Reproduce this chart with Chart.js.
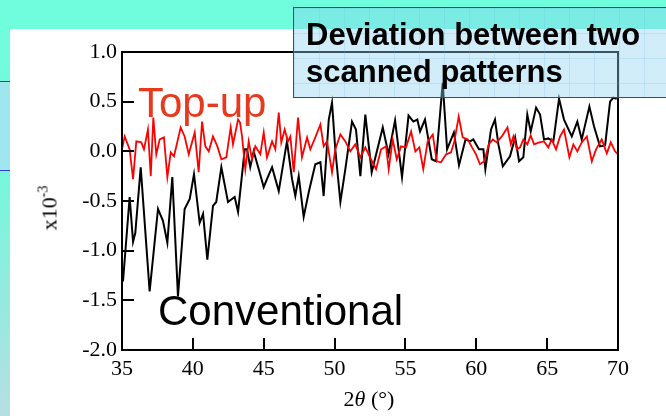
<!DOCTYPE html>
<html>
<head>
<meta charset="utf-8">
<script src="https://cdn.jsdelivr.net/npm/chart.js@4"></script>
<style>
  html, body { margin: 0; padding: 0; }
  body {
    width: 666px; height: 416px; overflow: hidden; position: relative;
    background: linear-gradient(to bottom, #6ffedd 0%, #74f8dc 40%, #98e9df 75%, #b6dfe3 100%);
    font-family: 'Liberation Sans', Arial, sans-serif;
  }
  #panel { position: absolute; left: 10px; top: 29px; width: 656px; height: 387px; background: #fff; }
  #sidebox {
    position: absolute; left: 0; top: 81px; width: 10px; height: 88px;
    background: #9fe6ee; border-top: 1.5px solid #2a3fe0; border-bottom: 1.5px solid #2a3fe0;
  }
  #chart { position: absolute; left: 0; top: 0; }
  #titlebox {
    position: absolute; left: 293px; top: 7px; width: 400px; height: 89px;
    border: 1.5px solid #2244dd;
    background-color: rgba(140, 210, 240, 0.4);
    background-image:
      linear-gradient(rgba(110, 180, 225, 0.22) 1px, transparent 1px),
      linear-gradient(90deg, rgba(110, 180, 225, 0.22) 1px, transparent 1px);
    background-size: 25px 25px;
  }
  .note { position: absolute; white-space: nowrap; }
  #title { left: 306px; top: 16px; font-size: 31px; line-height: 37px; font-weight: bold; color: #000; }
  #topup { left: 138px; top: 82px; font-size: 42px; line-height: 42px; color: #e8381e; }
  #conv { left: 158px; top: 290px; font-size: 42px; line-height: 42px; color: #000; }
  #xtitle { left: 369px; top: 388px; transform: translateX(-50%); font-family: 'Liberation Serif', serif; font-size: 22px; line-height: 22px; }
  #ytitle { left: 51px; top: 208px; transform: translate(-50%, -50%) rotate(-90deg); font-family: 'Liberation Serif', serif; font-size: 22px; line-height: 22px; }
  #ytitle span { font-size: 14px; position: relative; top: -9px; }
</style>
</head>
<body>
<div id="panel"></div>
<div id="sidebox"></div>
<canvas id="chart" width="666" height="416"></canvas>
<div id="titlebox"></div>
<div class="note" id="title">Deviation between two<br>scanned patterns</div>
<div class="note" id="topup">Top-up</div>
<div class="note" id="conv">Conventional</div>
<div class="note" id="xtitle">2<i>θ</i> (°)</div>
<div class="note" id="ytitle">x10<span>-3</span></div>
<script>
'use strict'

// conventional scan (black), 2theta in degrees and deviation x1e-3
const convAngle = [
  35.07, 35.54, 35.78, 35.94, 36.32, 36.95, 37.54, 37.89, 38.20, 38.55,
  38.95, 39.42, 39.78, 40.08, 40.48, 40.72, 41.02, 41.42, 41.65, 42.01,
  42.48, 42.95, 43.19, 43.66, 43.82, 44.05, 44.29, 44.65, 45.00, 45.23,
  45.59, 46.06, 46.64, 47.00, 47.23, 47.47, 47.82, 48.18, 48.64, 49.00,
  49.23, 49.59, 49.82, 50.05, 50.41, 50.76, 51.23, 51.51, 51.82, 52.17,
  52.62, 53.40, 53.81, 54.27, 54.76, 55.22, 55.56, 55.84, 56.03, 56.38,
  56.86, 57.16, 57.63, 57.94, 58.42, 58.78, 59.24, 59.56, 59.79, 60.19,
  60.50, 60.64, 61.04, 61.32, 61.56, 61.87, 62.38, 62.74, 63.02, 63.32,
  63.60, 63.84, 64.22, 64.50, 64.78, 65.08, 65.44, 65.84, 66.19, 66.74,
  67.13, 67.44, 67.98, 68.31, 68.73, 69.09, 69.44, 69.67, 69.91
];
const convValues = [
  -1.31, -0.46, -0.91, -0.82, -0.16, -1.41, -0.58, -0.70, -0.92, -0.26,
  -1.46, -0.58, -0.48, -0.23, -0.72, -0.63, -1.09, -0.55, -0.51, -0.16,
  -0.51, -0.46, -0.61, 0.02, 0.02, -0.16, 0.00, -0.18, -0.36, -0.28,
  -0.16, -0.40, 0.10, -0.28, -0.45, -0.25, -0.66, -0.41, -0.13, -0.11,
  -0.45, 0.32, 0.49, 0.02, -0.51, -0.18, 0.30, 0.22, -0.25, 0.37,
  -0.21, 0.24, -0.03, 0.31, -0.26, 0.36, 0.30, 0.32, 0.20, 0.32,
  -0.08, -0.10, 0.69, 0.02, 0.19, -0.14, 0.12, 0.10, 0.12, 0.02,
  0.02, -0.18, 0.22, 0.32, 0.07, -0.15, -0.05, 0.14, -0.10, -0.06,
  0.37, 0.20, 0.44, 0.37, 0.12, 0.13, 0.10, 0.53, 0.32, 0.15,
  0.30, 0.12, 0.45, 0.25, 0.05, 0.06, 0.50, 0.54, 0.53
];

// top-up scan (red)
const topupAngle = [
  35.00, 35.19, 35.54, 35.78, 36.01, 36.36, 36.55, 36.83, 37.03, 37.21,
  37.42, 37.66, 37.96, 38.20, 38.44, 38.67, 39.14, 39.42, 39.71, 40.13,
  40.41, 40.65, 40.88, 41.12, 41.42, 41.73, 42.01, 42.36, 42.67, 42.83,
  43.19, 43.33, 43.47, 43.70, 43.94, 44.17, 44.41, 44.76, 45.00, 45.23,
  45.59, 45.82, 46.06, 46.24, 46.48, 46.71, 46.88, 47.12, 47.42, 47.70,
  48.06, 48.29, 48.64, 49.00, 49.23, 49.47, 49.82, 50.05, 50.41, 50.76,
  51.11, 51.46, 51.82, 52.17, 52.57, 52.93, 53.28, 53.63, 53.82, 54.10,
  54.39, 54.69, 55.04, 55.40, 55.70, 55.98, 56.26, 56.57, 56.93, 57.21,
  57.51, 57.87, 58.22, 58.45, 58.76, 59.04, 59.40, 59.70, 59.98, 60.26,
  60.57, 60.88, 61.16, 61.44, 61.80, 62.20, 62.44, 62.62, 62.86, 63.09,
  63.32, 63.60, 63.84, 64.08, 64.45, 64.78, 65.08, 65.32, 65.63, 65.91,
  66.19, 66.57, 66.85, 67.13, 67.44, 67.80, 68.15, 68.45, 68.85, 69.21,
  69.49, 69.79, 70.00
];
const topupValues = [
  0.02, 0.15, 0.02, -0.28, 0.10, 0.09, 0.02, 0.22, -0.25, 0.34,
  -0.03, 0.12, 0.14, -0.26, -0.01, -0.05, 0.24, 0.15, -0.03, 0.19,
  -0.21, 0.30, 0.05, 0.00, 0.15, 0.05, -0.08, -0.06, 0.24, 0.07,
  0.32, 0.29, 0.15, -0.18, 0.10, -0.08, 0.05, -0.03, 0.19, -0.06,
  0.10, 0.02, 0.39, 0.09, 0.22, 0.10, 0.15, -0.21, 0.34, -0.06,
  0.14, 0.02, 0.14, 0.27, 0.05, 0.10, -0.21, 0.02, 0.17, 0.10,
  0.00, 0.07, -0.06, 0.04, -0.08, -0.18, 0.02, 0.05, -0.18, 0.12,
  -0.08, 0.05, 0.04, 0.20, 0.00, 0.04, -0.18, 0.10, 0.17, -0.10,
  -0.11, -0.03, -0.01, 0.10, 0.35, 0.14, 0.12, 0.04, -0.03, -0.13,
  -0.10, 0.07, 0.12, 0.09, 0.15, 0.24, 0.07, 0.15, 0.02, 0.04,
  0.12, 0.07, 0.16, 0.07, 0.09, 0.10, 0.04, 0.12, 0.02, 0.15,
  0.22, -0.06, 0.07, 0.00, 0.09, 0.15, -0.10, 0.02, 0.12, -0.02,
  0.09, 0.00, -0.03
];

const xTicks = [35, 40, 45, 50, 55, 60, 65, 70];
const yTicks = [-2.0, -1.5, -1.0, -0.5, 0.0, 0.5, 1.0];

function toPoints(xs, ys) {
  return xs.map((x, i) => ({ x: x, y: ys[i] }));
}

const serif = { family: "'Liberation Serif', 'Times New Roman', serif", size: 22 };

// box frame with inward tick marks
const framePlugin = {
  id: 'frame',
  afterDatasetsDraw(chart) {
    const { ctx, chartArea: a, scales } = chart;
    ctx.save();
    ctx.strokeStyle = '#000';
    ctx.lineWidth = 2;
    ctx.strokeRect(a.left, a.top, a.right - a.left, a.bottom - a.top);
    ctx.beginPath();
    xTicks.slice(1, -1).forEach(v => {
      const px = Math.round(scales.x.getPixelForValue(v));
      ctx.moveTo(px, a.bottom);
      ctx.lineTo(px, a.bottom - 12);
    });
    yTicks.slice(1, -1).forEach(v => {
      const py = Math.round(scales.y.getPixelForValue(v));
      ctx.moveTo(a.left, py);
      ctx.lineTo(a.left + 12, py);
    });
    ctx.stroke();
    ctx.restore();
  }
};

const config = {
  type: 'line',
  data: {
    datasets: [
      {
        label: 'Top-up',
        data: toPoints(topupAngle, topupValues),
        borderColor: '#ff0000',
        borderWidth: 1.8,
        pointRadius: 0,
        tension: 0,
      },
      {
        label: 'Conventional',
        data: toPoints(convAngle, convValues),
        borderColor: '#000000',
        borderWidth: 2,
        pointRadius: 0,
        tension: 0,
      },
    ],
  },
  options: {
    responsive: false,
    animation: false,
    devicePixelRatio: 1,
    layout: { padding: { top: 52, right: 48, left: 0, bottom: 0 } },
    plugins: { legend: { display: false }, tooltip: { enabled: false } },
    scales: {
      x: {
        type: 'linear',
        min: 35,
        max: 70,
        afterBuildTicks: s => { s.ticks = xTicks.map(v => ({ value: v })); },
        afterFit: s => { s.height = 66; },
        grid: { display: false, drawTicks: false },
        border: { display: false },
        ticks: { color: '#000', font: serif, padding: 6, maxRotation: 0, autoSkip: false },
      },
      y: {
        min: -2,
        max: 1,
        afterBuildTicks: s => { s.ticks = yTicks.map(v => ({ value: v })); },
        afterFit: s => { s.width = 122; },
        grid: { display: false, drawTicks: false },
        border: { display: false },
        ticks: { color: '#000', font: serif, padding: 5, callback: v => v.toFixed(1) },
      },
    },
  },
  plugins: [framePlugin],
};

const myChart = new Chart(document.getElementById('chart'), config);
</script>
</body>
</html>
